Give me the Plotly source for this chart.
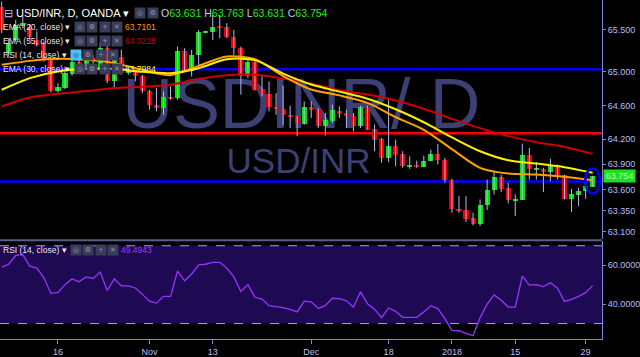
import plotly.graph_objects as go

# ---------------- data ----------------
bar_index = list(range(85))
opens = [65.777, 65.223, 65.381, 65.547, 65.539, 65.381, 65.341, 65.143, 64.767, 64.807,
         64.977, 65.116, 65.064, 65.163, 65.025, 65.282, 64.886, 65.175, 64.993, 64.993,
         64.953, 64.767, 64.609, 64.569, 64.700, 64.688, 65.250, 65.013, 65.203, 65.472,
         65.472, 65.531, 65.531, 65.413, 65.282, 64.953, 65.116, 64.795, 64.736, 64.581,
         64.557, 64.490, 64.470, 64.383, 64.577, 64.550, 64.360, 64.411, 64.530, 64.510,
         64.478, 64.352, 64.581, 64.320, 64.201, 63.976, 64.122, 64.027, 63.877, 63.888,
         63.869, 63.936, 64.027, 63.956, 63.718, 63.370, 63.350, 63.259, 63.184, 63.413,
         63.591, 63.746, 63.619, 63.473, 63.473, 64.015, 63.837, 63.849, 63.805, 63.884,
         63.777, 63.481, 63.528, 63.580, 63.631]
highs = [65.836, 65.401, 65.618, 65.678, 65.571, 65.480, 65.361, 65.151, 64.866, 65.064,
         65.143, 65.143, 65.183, 65.203, 65.341, 65.341, 65.203, 65.262, 65.064, 65.017,
         64.965, 64.787, 64.807, 64.767, 64.827, 65.302, 65.282, 65.262, 65.500, 65.490,
         65.678, 65.678, 65.579, 65.500, 65.302, 65.151, 65.143, 64.953, 64.886, 64.747,
         64.835, 64.597, 64.478, 64.649, 64.649, 64.569, 64.510, 64.609, 64.589, 64.550,
         64.510, 64.597, 64.597, 64.371, 64.213, 64.680, 64.193, 64.055, 63.995, 63.944,
         64.003, 64.074, 64.142, 63.976, 63.726, 63.520, 63.520, 63.322, 63.481, 63.718,
         63.817, 63.777, 63.679, 63.540, 64.146, 64.094, 63.928, 63.857, 63.964, 63.896,
         63.777, 63.607, 63.619, 63.698, 63.763]
lows = [65.460, 65.183, 65.361, 65.519, 65.381, 65.302, 65.124, 64.755, 64.755, 64.795,
        64.953, 65.044, 65.044, 65.084, 65.005, 64.866, 64.807, 64.965, 64.965, 64.886,
        64.747, 64.550, 64.530, 64.490, 64.668, 64.668, 65.005, 64.945, 65.084, 65.460,
        65.381, 65.401, 65.401, 65.203, 64.728, 64.926, 64.779, 64.708, 64.530, 64.490,
        64.360, 64.332, 64.233, 64.371, 64.451, 64.332, 64.241, 64.391, 64.451, 64.332,
        64.292, 64.332, 64.312, 64.055, 63.916, 63.924, 63.877, 63.857, 63.845, 63.857,
        63.869, 63.936, 63.896, 63.679, 63.322, 63.322, 63.211, 63.172, 63.164, 63.354,
        63.540, 63.568, 63.433, 63.283, 63.473, 63.718, 63.718, 63.568, 63.698, 63.718,
        63.481, 63.330, 63.401, 63.488, 63.631]
closes = [65.500, 65.341, 65.559, 65.579, 65.413, 65.322, 65.143, 64.767, 64.819, 64.985,
          65.116, 65.076, 65.163, 65.124, 65.282, 64.886, 65.175, 64.985, 65.013, 64.945,
          64.767, 64.609, 64.569, 64.700, 64.684, 65.250, 65.013, 65.203, 65.480, 65.476,
          65.531, 65.527, 65.413, 65.282, 64.953, 65.116, 64.787, 64.736, 64.581, 64.557,
          64.490, 64.470, 64.391, 64.581, 64.542, 64.360, 64.423, 64.542, 64.510, 64.470,
          64.352, 64.581, 64.312, 64.193, 63.976, 64.122, 64.015, 63.877, 63.884, 63.869,
          63.944, 64.027, 63.956, 63.710, 63.362, 63.338, 63.251, 63.184, 63.413, 63.599,
          63.746, 63.611, 63.469, 63.481, 64.015, 63.845, 63.849, 63.805, 63.884, 63.766,
          63.481, 63.540, 63.587, 63.639, 63.754]

ema_index = list(range(0, 85, 4))
ema20 = [65.084, 65.131, 65.155, 65.143, 65.104, 65.025, 64.961, 65.072, 65.183, 65.150, 64.950,
         64.790, 64.720, 64.630, 64.460, 64.310, 64.080, 63.857, 63.789, 63.777, 63.750, 63.710]
ema30 = [64.787, 64.926, 65.005, 65.036, 65.036, 65.001, 64.985, 65.044, 65.150, 65.140, 64.980,
         64.850, 64.765, 64.680, 64.555, 64.400, 64.220, 64.055, 63.948, 63.908, 63.865, 63.798]
ema55 = [64.589, 64.696, 64.740, 64.771, 64.807, 64.823, 64.846, 64.915, 64.960, 64.965, 64.920,
         64.860, 64.780, 64.730, 64.660, 64.560, 64.440, 64.330, 64.235, 64.162, 64.106, 64.023]

rsi14 = [59.0, 60.5, 65.0, 65.4, 59.5, 58.5, 53.5, 45.5, 46.0, 50.0,
         53.0, 51.5, 54.0, 53.2, 56.5, 47.0, 53.0, 49.4, 49.4, 48.3,
         45.0, 41.5, 40.5, 44.0, 44.0, 57.0, 52.0, 55.5, 60.2, 60.5,
         61.5, 61.5, 58.5, 54.0, 46.5, 50.0, 43.5, 42.6, 39.2, 38.8,
         38.2, 37.3, 36.0, 41.5, 41.2, 37.8, 39.2, 43.0, 42.8, 41.7,
         38.4, 46.4, 40.2, 37.4, 33.0, 38.0, 36.3, 33.2, 33.2, 33.2,
         36.0, 39.2, 37.7, 32.5, 26.5, 26.3, 25.0, 23.7, 33.0, 40.0,
         44.7, 42.0, 38.5, 38.4, 54.4, 49.8, 50.0, 49.0, 51.0, 48.2,
         41.4, 42.4, 44.0, 45.9, 49.5]

level_values = [65.03, 64.27, 63.695]
level_colors = ["#0000ff", "#ff0000", "#0000ff"]

price_ticks = [63.1, 63.35, 63.6, 63.9, 64.2, 64.6, 65.0, 65.5]
price_tick_text = ["63.100", "63.350", "63.600", "63.900", "64.200", "64.600", "65.000", "65.500"]
rsi_ticks = [40, 60]
rsi_tick_text = ["40.0000", "60.0000"]
date_tick_index = [8, 21, 30, 44, 55, 64, 73, 83]
date_tick_text = ["16", "Nov", "13", "Dec", "18", "2018", "15", "29"]

# ---------------- styling ----------------
W, H = 640, 357
ML, MR, MT, MB = 0, 35, 0, 17
PW, PH = W - ML - MR, H - MT - MB
AXIS = "#8286d6"
LABEL = "#b9bdf3"
GREEN = "#00e600"
RED = "#e60000"
WICK = "#b4b9f2"
FONT = "Liberation Sans, Arial, sans-serif"


def px(xp):
    return xp / PW


def py(yp):
    return 1 - yp / PH


fig = go.Figure()

# wicks
wx, wy = [], []
for i, lo, hi in zip(bar_index, lows, highs):
    wx += [i, i, None]
    wy += [lo, hi, None]
fig.add_trace(go.Scatter(x=wx, y=wy, mode="lines", line=dict(color=WICK, width=1),
                         hoverinfo="skip", showlegend=False, xaxis="x", yaxis="y"))

# bodies
body_base = [min(o, c) for o, c in zip(opens, closes)]
body_h = [max(abs(c - o), 0.012) for o, c in zip(opens, closes)]
body_col = [GREEN if c >= o else RED for o, c in zip(opens, closes)]
fig.add_trace(go.Bar(x=bar_index, y=body_h, base=body_base, width=0.72,
                     marker=dict(color=body_col, line=dict(width=0)),
                     showlegend=False, xaxis="x", yaxis="y"))

# EMAs
for vals, col in [(ema55, "#cc0000"), (ema20, "#ffa000"), (ema30, "#fff000")]:
    fig.add_trace(go.Scatter(x=ema_index, y=vals, mode="lines",
                             line=dict(color=col, width=2, shape="spline", smoothing=0.8),
                             showlegend=False, xaxis="x", yaxis="y"))

# RSI
fig.add_trace(go.Scatter(x=bar_index, y=rsi14, mode="lines",
                         line=dict(color="#9933ff", width=1.3),
                         showlegend=False, xaxis="x", yaxis="y2"))

shapes = []
# RSI band and bounds
shapes.append(dict(type="rect", xref="paper", x0=0, x1=1, yref="y2", y0=30, y1=70,
                   fillcolor="#1e0a52", line=dict(width=0), layer="below"))
for lvl in (70, 30):
    shapes.append(dict(type="line", xref="paper", x0=0, x1=1, yref="y2", y0=lvl, y1=lvl,
                       line=dict(color="#a89de6", width=1, dash="dash"), layer="below"))
# watermark
shapes.append(dict(type="rect", xref="paper", yref="paper", x0=px(203), x1=px(403),
                   y0=py(97) - 0.04, y1=py(97) + 0.04, line=dict(width=0),
                   fillcolor="rgba(0,0,0,0)", layer="below",
                   label=dict(text="USDINR/ D", textposition="middle center",
                              font=dict(family=FONT, size=70, color="#3d4074"))))
shapes.append(dict(type="rect", xref="paper", yref="paper", x0=px(250), x1=px(350),
                   y0=py(157.5) - 0.03, y1=py(157.5) + 0.03, line=dict(width=0),
                   fillcolor="rgba(0,0,0,0)", layer="below",
                   label=dict(text="USD/INR", textposition="middle center",
                              font=dict(family=FONT, size=35, color="#3d4074"))))
# horizontal levels
for v, c in zip(level_values, level_colors):
    shapes.append(dict(type="line", xref="paper", x0=0, x1=1, yref="y", y0=v, y1=v,
                       line=dict(color=c, width=2.5), layer="below"))
# pane separator
shapes.append(dict(type="line", xref="paper", x0=0, x1=1, yref="paper", y0=py(241), y1=py(241),
                   line=dict(color="#5a5c8e", width=2)))
# blue ellipse around last candle
last = bar_index[-1]
shapes.append(dict(type="circle", xref="x", yref="y", x0=last - 1.05, x1=last + 1.05,
                   y0=lows[-1] - 0.08, y1=highs[-1] + 0.086,
                   line=dict(color="#0000ff", width=2.5)))

ann = []


def text(xp, yp, t, size, color="#ffffff", **kw):
    ann.append(dict(xref="paper", yref="paper", x=px(xp), y=py(yp), text=t, showarrow=False,
                    xanchor="left", yanchor="middle",
                    font=dict(family=FONT, size=size, color=color), **kw))


def icons(x0, yp, glyphs, first_bg="#3a3d58"):
    for k, g in enumerate(glyphs):
        bg = first_bg if k == 0 else "#3a3d58"
        fc = "#1b3a5a" if (k == 0 and first_bg != "#3a3d58") else "#9295bb"
        ann.append(dict(xref="paper", yref="paper", x=px(x0 + k * 12.5), y=py(yp), text=g,
                        showarrow=False, xanchor="left", yanchor="middle", width=10, height=10,
                        bgcolor=bg, borderpad=0,
                        font=dict(family="DejaVu Sans", size=7, color=fc)))


text(2, 13, "<span style='color:#b9bdf2'>⊟</span> USD/INR, D, OANDA ▾", 11)
icons(135, 13, ["◎", "⚙"])
g = "#19f019"
text(160, 13, f"O<span style='color:{g}'>{opens[-1]:.3f}</span> H<span style='color:{g}'>{highs[-1]:.3f}</span>"
              f" L<span style='color:{g}'>{lows[-1]:.3f}</span> C<span style='color:{g}'>{closes[-1]:.3f}</span>",
     10.5, "#c8cbf5")

rows = [("EMA (20, close) ▾", 27, "63.7101", "#ff9900"),
        ("EMA (55, close) ▾", 41, "64.0228", "#c00000"),
        ("RSI (14, close) ▾", 55, None, None),
        ("EMA (30, close) ▾", 69, "63.7984", "#ffff00")]
for label, yp, val, col in rows:
    text(1, yp, label, 8.5, "rgba(255,255,255,0.92)")
    if val is None:
        icons(70, yp, ["◎", "⚙", "+", "✕"], first_bg="#4fc3f7")
    else:
        icons(74, yp, ["◎", "⚙", "+", "✕"])
        text(124, yp, val, 8.5, col)

# RSI pane legend
text(1, 251, "RSI (14, close) ▾", 8.5, "rgba(255,255,255,0.92)")
icons(70, 251, ["◎", "⚙", "+", "✕"])
text(120, 251, f"{49.4943:.4f}", 8.5, "#9a3cff")

# last price label
ann.append(dict(xref="paper", yref="y", x=1, y=closes[-1], xanchor="left", yanchor="middle",
                xshift=1, text=f"{closes[-1]:.3f}", showarrow=False, bgcolor="#1fe01f",
                width=31, height=12, borderpad=0,
                font=dict(family=FONT, size=9, color="#b6ffb6")))

tickfont = dict(family=FONT, size=9, color=LABEL)
fig.update_layout(
    width=W, height=H, autosize=False,
    margin=dict(l=ML, r=MR, t=MT, b=MB, pad=0),
    paper_bgcolor="#000000", plot_bgcolor="#000000",
    barmode="overlay", bargap=0, showlegend=False,
    shapes=shapes, annotations=ann,
    xaxis=dict(domain=[0, 1], range=[-0.24, 85.33], anchor="y2", tickvals=date_tick_index,
               ticktext=date_tick_text, ticks="outside", ticklen=4, tickcolor=AXIS,
               showline=True, linecolor=AXIS, linewidth=1, showgrid=False, zeroline=False,
               tickfont=tickfont, fixedrange=True),
    yaxis=dict(domain=[py(240), 1], range=[63.006, 65.856], side="right", anchor="x",
               tickvals=price_ticks, ticktext=price_tick_text, ticks="outside", ticklen=3,
               tickcolor=AXIS, showline=True, linecolor=AXIS, linewidth=1, showgrid=False,
               zeroline=False, tickfont=tickfont, fixedrange=True),
    yaxis2=dict(domain=[0, py(242)], range=[22.05, 72.3], side="right", anchor="x",
                tickvals=rsi_ticks, ticktext=rsi_tick_text, ticks="outside", ticklen=3,
                tickcolor=AXIS, showline=True, linecolor=AXIS, linewidth=1, showgrid=False,
                zeroline=False, tickfont=tickfont, fixedrange=True),
)

fig.write_html("out.html", config={"displayModeBar": False})
